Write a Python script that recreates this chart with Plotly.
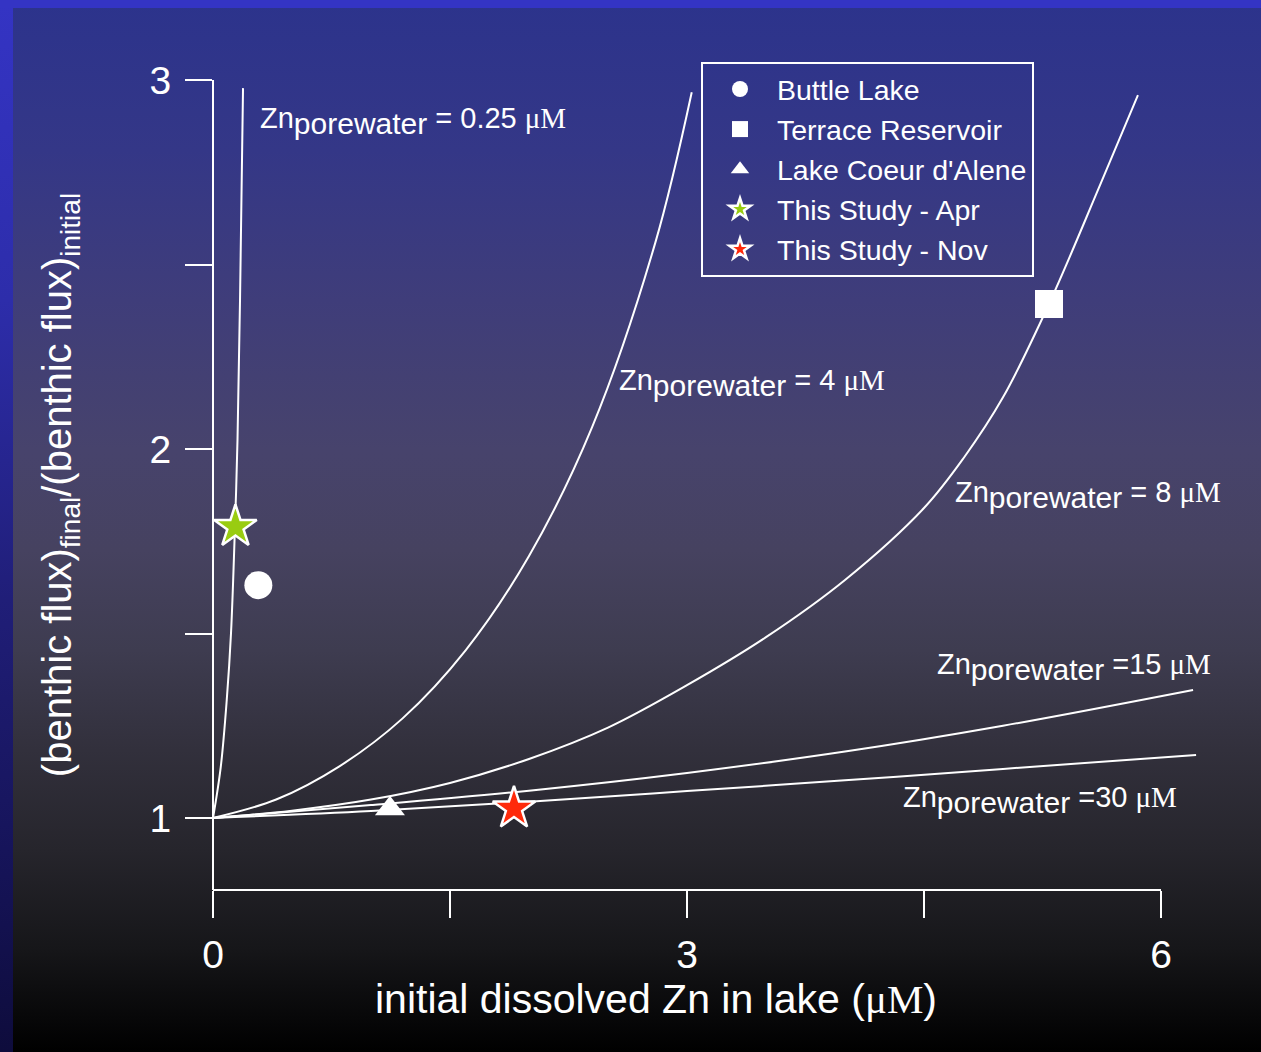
import base64
import plotly.graph_objects as go

# ---------------- data ----------------
c025_x = [0, 0.049, 0.087, 0.114, 0.139, 0.155, 0.171, 0.190]
c025_y = [1, 1.138, 1.320, 1.501, 1.789, 2.024, 2.404, 2.978]

c4_x = [0, 0.4, 0.8, 1.2, 1.6, 2.0, 2.4, 2.8, 3.03]
c4_y = [1, 1.050, 1.140, 1.270, 1.455, 1.710, 2.060, 2.560, 2.967]

c8_x = [0, 0.5, 1.0, 1.5, 2.0, 2.5, 3.0, 3.5, 4.0, 4.5, 4.75, 5.0, 5.291, 5.614, 5.854]
c8_y = [1, 1.020, 1.050, 1.095, 1.160, 1.245, 1.360, 1.490, 1.645, 1.840, 1.975, 2.140,
        2.393, 2.715, 2.959]

c15_x = [0, 1, 2, 3, 4, 5, 6.203]
c15_y = [1, 1.035, 1.074, 1.122, 1.180, 1.250, 1.347]

c30_x = [0, 1, 2, 3, 4, 5, 6.222]
c30_y = [1, 1.019, 1.044, 1.073, 1.102, 1.133, 1.171]

buttle_x, buttle_y = [0.287], [1.631]
terrace_x, terrace_y = [5.291], [2.393]
coeur_x, coeur_y = [1.12], [1.025]
apr_x, apr_y = [0.142], [1.789]
nov_x, nov_y = [1.905], [1.026]

curve_labels = ["0.25", "4", "8", "15", "30"]
label_x = [0.285, 2.557, 4.684, 4.570, 4.354]
label_y = [2.890, 2.180, 1.875, 1.410, 1.050]

x_major_dtick, x_minor_dtick = 3, 1.5
y_major_dtick, y_minor_dtick = 1, 0.5
x_axis_end = 6

# ---------------- geometry ----------------
W, H = 1261, 1052
L, R, T, B = 100, 49, 80, 162
PW, PH = W - L - R, H - T - B
X_UNIT = 158.0
Y_UNIT = 369.0
x0 = -(213 - L) / X_UNIT
x1 = x0 + PW / X_UNIT
y1 = 3.0
y0 = y1 - PH / Y_UNIT


def pxp(xpix):
    return (xpix - L) / PW


def pyp(ypix):
    return (H - B - ypix) / PH


FONT = "Liberation Sans, Arial, sans-serif"
SERIF = "Liberation Serif, Times New Roman, serif"
WHITE = "#ffffff"

# ---------------- background gradient (as an SVG image) ----------------
inner_stops = [
    (0, (44, 51, 140)), (150, (52, 55, 135)), (300, (63, 61, 122)),
    (450, (71, 67, 108)), (550, (70, 66, 96)), (650, (62, 60, 80)),
    (750, (50, 48, 60)), (850, (38, 37, 44)), (950, (22, 22, 25)),
    (1052, (0, 0, 0)),
]
side_stops = [
    (0, (52, 52, 196)), (300, (45, 45, 170)), (600, (32, 30, 120)),
    (850, (22, 20, 90)), (1052, (14, 12, 60)),
]


def stops(lst):
    return "".join(
        f'<stop offset="{p / H:.4f}" stop-color="rgb({c[0]},{c[1]},{c[2]})"/>' for p, c in lst
    )


svg = (
    f'<svg xmlns="http://www.w3.org/2000/svg" width="{W}" height="{H}" '
    f'viewBox="0 0 {W} {H}" preserveAspectRatio="none">'
    f'<defs><linearGradient id="g" x1="0" y1="0" x2="0" y2="1">{stops(inner_stops)}</linearGradient>'
    f'<linearGradient id="s" x1="0" y1="0" x2="0" y2="1">{stops(side_stops)}</linearGradient></defs>'
    f'<rect x="0" y="0" width="{W}" height="{H}" fill="url(#g)"/>'
    f'<rect x="0" y="0" width="13" height="{H}" fill="url(#s)"/>'
    f'<rect x="0" y="0" width="{W}" height="8" fill="rgb(52,52,196)"/>'
    f'</svg>'
)
bg_src = "data:image/svg+xml;base64," + base64.b64encode(svg.encode()).decode()

# ---------------- figure ----------------
fig = go.Figure()

line_style = dict(color=WHITE, width=2, shape="spline", smoothing=1.0)
for cx, cy, nm in [(c025_x, c025_y, "0.25"), (c4_x, c4_y, "4"), (c8_x, c8_y, "8"),
                   (c15_x, c15_y, "15"), (c30_x, c30_y, "30")]:
    fig.add_trace(go.Scatter(x=cx, y=cy, mode="lines", line=line_style,
                             name=f"Zn porewater = {nm} µM", showlegend=False,
                             hoverinfo="skip"))

fig.add_trace(go.Scatter(x=buttle_x, y=buttle_y, mode="markers", name="Buttle Lake",
                         marker=dict(symbol="circle", size=28, color=WHITE, line=dict(width=0))))
fig.add_trace(go.Scatter(x=terrace_x, y=terrace_y, mode="markers", name="Terrace Reservoir",
                         marker=dict(symbol="square", size=28, color=WHITE, line=dict(width=0))))
fig.add_trace(go.Scatter(x=coeur_x, y=coeur_y, mode="markers", name="Lake Coeur d'Alene",
                         marker=dict(symbol="triangle-up", size=26, color=WHITE, line=dict(width=0))))
fig.add_trace(go.Scatter(x=apr_x, y=apr_y, mode="markers", name="This Study - Apr",
                         marker=dict(symbol="star", size=32, color="#99cc11",
                                     line=dict(width=2.5, color=WHITE))))
fig.add_trace(go.Scatter(x=nov_x, y=nov_y, mode="markers", name="This Study - Nov",
                         marker=dict(symbol="star", size=32, color="#ff2a0a",
                                     line=dict(width=2.5, color=WHITE))))

annotations = []
for lab, ax_, ay_ in zip(curve_labels, label_x, label_y):
    sep = " = " if lab in ("0.25", "4", "8") else " ="
    txt = (f'Zn<sub><span style="font-size:30px">porewater</span></sub>{sep}{lab} '
           f'<span style="font-family:{SERIF};font-size:29px">μM</span>')
    annotations.append(dict(x=ax_, y=ay_, xref="x", yref="y", text=txt, showarrow=False,
                            xanchor="left", yanchor="middle",
                            font=dict(family=FONT, size=29, color=WHITE)))

fig.update_layout(
    width=W, height=H, autosize=False,
    margin=dict(l=L, r=R, t=T, b=B, pad=0),
    paper_bgcolor="#000000", plot_bgcolor="rgba(0,0,0,0)",
    font=dict(family=FONT, color=WHITE, size=39),
    images=[dict(source=bg_src, xref="paper", yref="paper", x=pxp(0), y=pyp(0),
                 sizex=W / PW, sizey=H / PH, xanchor="left", yanchor="top",
                 sizing="stretch", layer="below")],
    shapes=[dict(type="line", xref="x", yref="paper", x0=0, x1=x_axis_end,
                 y0=0, y1=0, line=dict(color=WHITE, width=2), layer="above")],
    xaxis=dict(range=[x0, x1], showline=False, showgrid=False, zeroline=False,
               tickmode="linear", tick0=0, dtick=x_major_dtick,
               ticks="outside", ticklen=27, tickwidth=2, tickcolor=WHITE,
               minor=dict(tickmode="linear", tick0=0, dtick=x_minor_dtick, ticks="outside",
                          ticklen=27, tickwidth=2, tickcolor=WHITE, showgrid=False),
               tickfont=dict(family=FONT, size=39, color=WHITE), ticklabelstandoff=3,
               title=dict(text=(f'initial dissolved Zn in lake '
                                f'(<span style="font-family:{SERIF};font-size:41px">μM</span>)'),
                          font=dict(family=FONT, size=41, color=WHITE), standoff=6),
               automargin=False, fixedrange=True),
    yaxis=dict(range=[y0, y1], anchor="free", position=pxp(213),
               showline=True, linecolor=WHITE, linewidth=2, showgrid=False, zeroline=False,
               tickmode="linear", tick0=0, dtick=y_major_dtick,
               ticks="outside", ticklen=27, tickwidth=2, tickcolor=WHITE,
               minor=dict(tickmode="linear", tick0=0, dtick=y_minor_dtick, ticks="outside",
                          ticklen=27, tickwidth=2, tickcolor=WHITE, showgrid=False),
               tickfont=dict(family=FONT, size=39, color=WHITE), ticklabelstandoff=6,
               title=dict(text="(benthic flux)<sub>final</sub>/(benthic flux)<sub>initial</sub>",
                          font=dict(family=FONT, size=40, color=WHITE), standoff=64),
               automargin=False, fixedrange=True),
    legend=dict(x=pxp(701), y=pyp(62), xanchor="left", yanchor="top",
                bgcolor="rgba(0,0,0,0)", bordercolor=WHITE, borderwidth=2,
                font=dict(family=FONT, size=28.5, color=WHITE), itemwidth=64,
                tracegroupgap=0),
    annotations=annotations,
    showlegend=True,
)

fig.write_html(
    "out.html",
    config={"displayModeBar": False},
    post_script="document.body.style.margin='0';document.body.style.overflow='hidden';",
)
